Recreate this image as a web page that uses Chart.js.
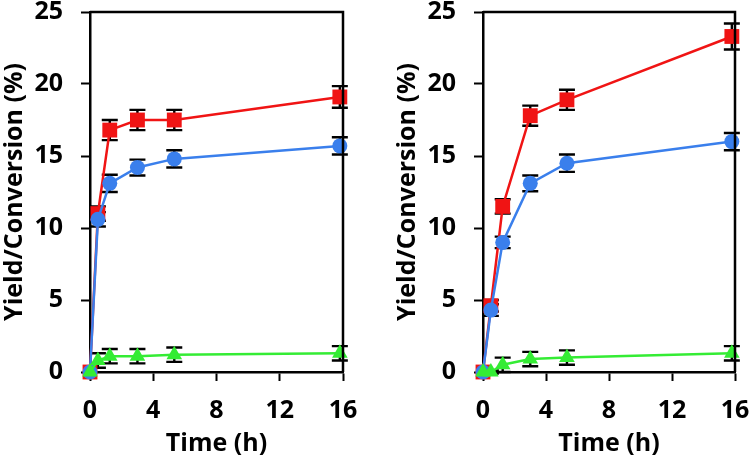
<!DOCTYPE html>
<html lang="en">
<head>
  <meta charset="UTF-8" />
  <title>Yield/Conversion vs Time</title>
  <script src="https://cdn.jsdelivr.net/npm/chart.js@4.4.0/dist/chart.umd.min.js"></script>
  <style>
    body { margin: 0; background: #fff; }
    #wrap { position: relative; width: 752px; height: 460px; }
    canvas { position: absolute; top: 0; }
    #left { left: 0; }
    #right { left: 393px; }
  </style>
</head>
<body>
  <div id="wrap">
    <canvas id="left" width="376" height="460"></canvas>
    <canvas id="right" width="359" height="460"></canvas>
  </div>

  <script>
    // sampling times (h)
    const times = [0, 0.5, 1.25, 3, 5.33, 15.8];
    const xTicks = [0, 4, 8, 12, 16];
    const yTicks = [0, 5, 10, 15, 20, 25];

    // left panel
    const leftRed = [0, 11.0, 16.8, 17.5, 17.5, 19.1];
    const leftRedErr = [0, 0.5, 0.7, 0.7, 0.7, 0.75];
    const leftBlue = [0, 10.6, 13.1, 14.2, 14.8, 15.7];
    const leftBlueErr = [0, 0.5, 0.6, 0.55, 0.6, 0.6];
    const leftGreen = [0, 0.8, 1.1, 1.1, 1.2, 1.3];
    const leftGreenErr = [0, 0.5, 0.5, 0.5, 0.5, 0.5];

    // right panel
    const rightRed = [0, 4.6, 11.5, 17.8, 18.9, 23.3];
    const rightRedErr = [0, 0.4, 0.5, 0.7, 0.7, 0.9];
    const rightBlue = [0, 4.3, 9.0, 13.1, 14.5, 16.0];
    const rightBlueErr = [0, 0.4, 0.4, 0.55, 0.6, 0.6];
    const rightGreen = [0, 0.0, 0.5, 0.9, 1.0, 1.3];
    const rightGreenErr = [0, 0.1, 0.5, 0.5, 0.5, 0.5];

    const RED = '#f01414';
    const BLUE = '#3a7fec';
    const GREEN = '#34ec34';
    const FONT = { family: "'Open Sans', sans-serif", weight: 'bold', size: 25 };

    // error bars + closed frame
    const errorBars = {
      id: 'errorBars',
      beforeDatasetsDraw(chart) {
        const ctx = chart.ctx;
        const xs = chart.scales.x, ys = chart.scales.y;
        ctx.save();
        ctx.strokeStyle = '#000';
        ctx.lineWidth = 2.4;
        chart.data.datasets.forEach(ds => {
          ds.data.forEach((p, i) => {
            const e = ds.errors[i];
            if (!e) return;
            const px = xs.getPixelForValue(p.x);
            const top = ys.getPixelForValue(p.y + e);
            const bot = ys.getPixelForValue(p.y - e);
            ctx.beginPath();
            ctx.moveTo(px, top); ctx.lineTo(px, bot);
            ctx.moveTo(px - 8, top); ctx.lineTo(px + 8, top);
            ctx.moveTo(px - 8, bot); ctx.lineTo(px + 8, bot);
            ctx.stroke();
          });
        });
        ctx.restore();
      },
      afterDraw(chart) {
        const { ctx, chartArea: a } = chart;
        ctx.save();
        ctx.strokeStyle = '#000';
        ctx.lineWidth = 2.5;
        ctx.beginPath();
        ctx.moveTo(a.left, a.top);
        ctx.lineTo(a.right, a.top);
        ctx.lineTo(a.right, a.bottom);
        ctx.stroke();
        ctx.restore();
      }
    };

    function series(ys, errs, color, style, radius) {
      return {
        data: times.map((t, i) => ({ x: t, y: ys[i] })),
        errors: errs,
        borderColor: color,
        backgroundColor: color,
        borderWidth: 2.5,
        pointStyle: style,
        pointRadius: radius,
        pointBorderWidth: 0,
        pointBackgroundColor: color,
        clip: false
      };
    }

    function makeChart(id, red, redErr, blue, blueErr, green, greenErr, padRight) {
      new Chart(document.getElementById(id), {
        type: 'line',
        data: {
          // first dataset is painted last, so green sits on top
          datasets: [
            series(green, greenErr, GREEN, 'triangle', 9),
            series(blue, blueErr, BLUE, 'circle', 7.5),
            series(red, redErr, RED, 'rect', 10.5)
          ]
        },
        options: {
          responsive: false,
          animation: false,
          layout: { padding: { top: 12, right: padRight, left: 0, bottom: 0 } },
          plugins: { legend: { display: false }, tooltip: { enabled: false } },
          scales: {
            x: {
              type: 'linear',
              min: 0,
              max: 16,
              afterBuildTicks: s => { s.ticks = xTicks.map(v => ({ value: v })); },
              afterFit: s => { s.height = 88; s.paddingLeft = 0; s.paddingRight = 0; },
              border: { display: true, color: '#000', width: 2.5 },
              grid: { drawOnChartArea: false, drawTicks: true, tickLength: 9, tickWidth: 2, tickColor: '#000' },
              ticks: { color: '#000', font: FONT, padding: 15, maxRotation: 0 },
              title: { display: true, text: 'Time (h)', color: '#000', font: FONT, padding: { top: 0, bottom: 1 } }
            },
            y: {
              min: 0,
              max: 25,
              afterBuildTicks: s => { s.ticks = yTicks.map(v => ({ value: v })); },
              afterFit: s => { s.width = 90; s.paddingTop = 0; s.paddingBottom = 0; },
              border: { display: true, color: '#000', width: 2.5 },
              grid: { drawOnChartArea: false, drawTicks: true, tickLength: 9, tickWidth: 2, tickColor: '#000' },
              ticks: { color: '#000', font: FONT, padding: 18 },
              title: { display: true, text: 'Yield/Conversion (%)', color: '#000', font: FONT, padding: { top: 0, bottom: 0 } }
            }
          }
        },
        plugins: [errorBars]
      });
    }

    makeChart('left', leftRed, leftRedErr, leftBlue, leftBlueErr, leftGreen, leftGreenErr, 33);
    makeChart('right', rightRed, rightRedErr, rightBlue, rightBlueErr, rightGreen, rightGreenErr, 17);
  </script>
</body>
</html>
